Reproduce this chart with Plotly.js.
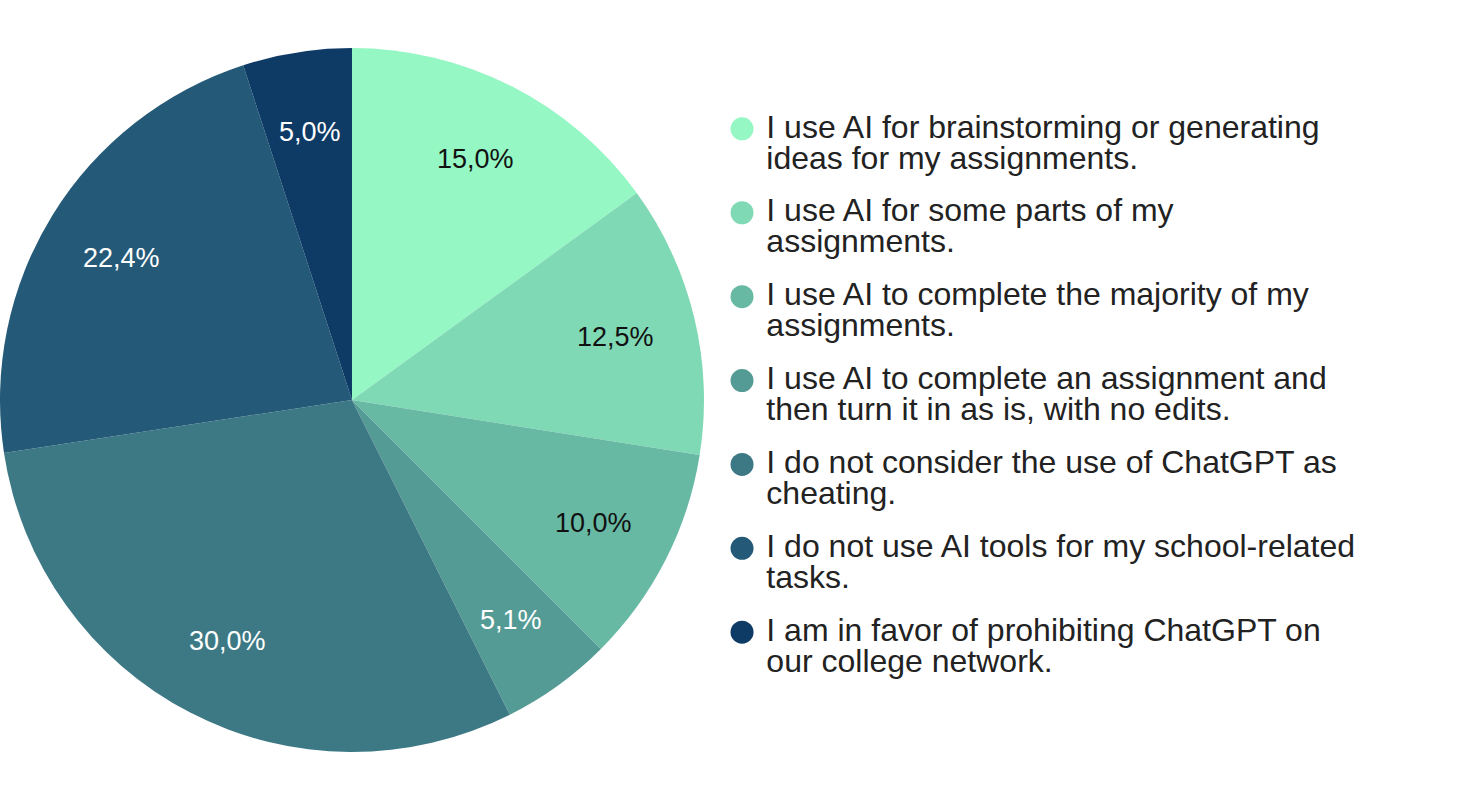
<!DOCTYPE html>
<html>
<head>
<meta charset="utf-8">
<script src="https://cdn.plot.ly/plotly-3.0.1.min.js"></script>
<style>
  html, body { margin: 0; padding: 0; background: #fff; }
  #chart { width: 1484px; height: 800px; }
</style>
</head>
<body>
<div id="chart"></div>
<script>
// each answer is shown on two lines in the legend
const labelLine1 = [
    "I use AI for brainstorming or generating",
    "I use AI for some parts of my",
    "I use AI to complete the majority of my",
    "I use AI to complete an assignment and",
    "I do not consider the use of ChatGPT as",
    "I do not use AI tools for my school-related",
    "I am in favor of prohibiting ChatGPT on"
];
const labelLine2 = [
    "ideas for my assignments.",
    "assignments.",
    "assignments.",
    "then turn it in as is, with no edits.",
    "cheating.",
    "tasks.",
    "our college network."
];
const shares = [15.0, 12.5, 10.0, 5.1, 30.0, 22.4, 5.0];
const colors = ["#95f7c4", "#80d9b5", "#67b9a4", "#549b95", "#3c7985", "#245a77", "#0e3a66"];
const labelColors = ["#111", "#111", "#111", "#fff", "#fff", "#fff", "#fff"];

const FONT = "Arial, 'Liberation Sans', sans-serif";
const W = 1484, H = 800;
const PIE_PX = 704;
const PIE_DOMAIN = { x: [0, PIE_PX / W], y: [0, 1] };

const labels = labelLine1.map((l, i) => l + ' ' + labelLine2[i]);
const rows = labels.map((_, i) => i);

// middle angle of every slice, clockwise from 12 o'clock
const total = shares.reduce((a, b) => a + b, 0);
let acc = 0;
const midAngles = shares.map(v => {
    const mid = (acc + v / 2) / total * 2 * Math.PI;
    acc += v;
    return mid;
});

const pie = {
    type: 'pie',
    values: shares,
    labels: labels,
    sort: false,
    direction: 'clockwise',
    rotation: 0,
    domain: PIE_DOMAIN,
    marker: { colors: colors, line: { width: 0 } },
    textinfo: 'none',
    hoverinfo: 'label+value',
    showlegend: false
};

// percentage labels: annotations on a unit-radius axis pair laid over the pie
const LABEL_R = 0.77;
const pieLabels = shares.map((v, i) => ({
    xref: 'x3',
    yref: 'y3',
    x: LABEL_R * Math.sin(midAngles[i]),
    y: LABEL_R * Math.cos(midAngles[i]),
    text: v.toFixed(1).replace('.', ',') + '%',
    showarrow: false,
    xanchor: 'center',
    yanchor: 'middle',
    font: { family: FONT, size: 27, color: labelColors[i] }
}));

const legendDots = {
    type: 'scatter',
    mode: 'markers',
    x: rows.map(() => 0.0385),
    y: rows,
    xaxis: 'x2',
    yaxis: 'y2',
    marker: { size: 23, color: colors },
    hoverinfo: 'skip',
    showlegend: false
};

const legendFont = { family: FONT, size: 32, color: '#222' };

const legendText1 = {
    type: 'scatter',
    mode: 'text',
    x: rows.map(() => 0.07),
    y: rows.map(r => r + 0.008),
    xaxis: 'x2',
    yaxis: 'y2',
    text: labelLine1,
    textposition: 'middle right',
    textfont: legendFont,
    hoverinfo: 'skip',
    showlegend: false
};

const legendText2 = Object.assign({}, legendText1, {
    y: rows.map(r => r + 0.378),
    text: labelLine2
});

const halfY = (H / 2) / (PIE_PX / 2);

const layout = {
    width: W,
    height: H,
    margin: { t: 0, b: 0, l: 0, r: 0 },
    paper_bgcolor: '#fff',
    plot_bgcolor: 'rgba(0,0,0,0)',
    font: { family: FONT },
    showlegend: false,
    xaxis2: { domain: [0.48, 1], range: [0, 1], visible: false, fixedrange: true },
    yaxis2: { domain: [0, 1], range: [8, -1.536], visible: false, fixedrange: true, anchor: 'x2' },
    xaxis3: { domain: PIE_DOMAIN.x, range: [-1, 1], visible: false, fixedrange: true },
    yaxis3: { domain: [0, 1], range: [-halfY, halfY], visible: false, fixedrange: true, anchor: 'x3' },
    annotations: pieLabels
};

Plotly.newPlot('chart', [pie, legendDots, legendText1, legendText2], layout,
    { displayModeBar: false, staticPlot: true });
</script>
</body>
</html>
